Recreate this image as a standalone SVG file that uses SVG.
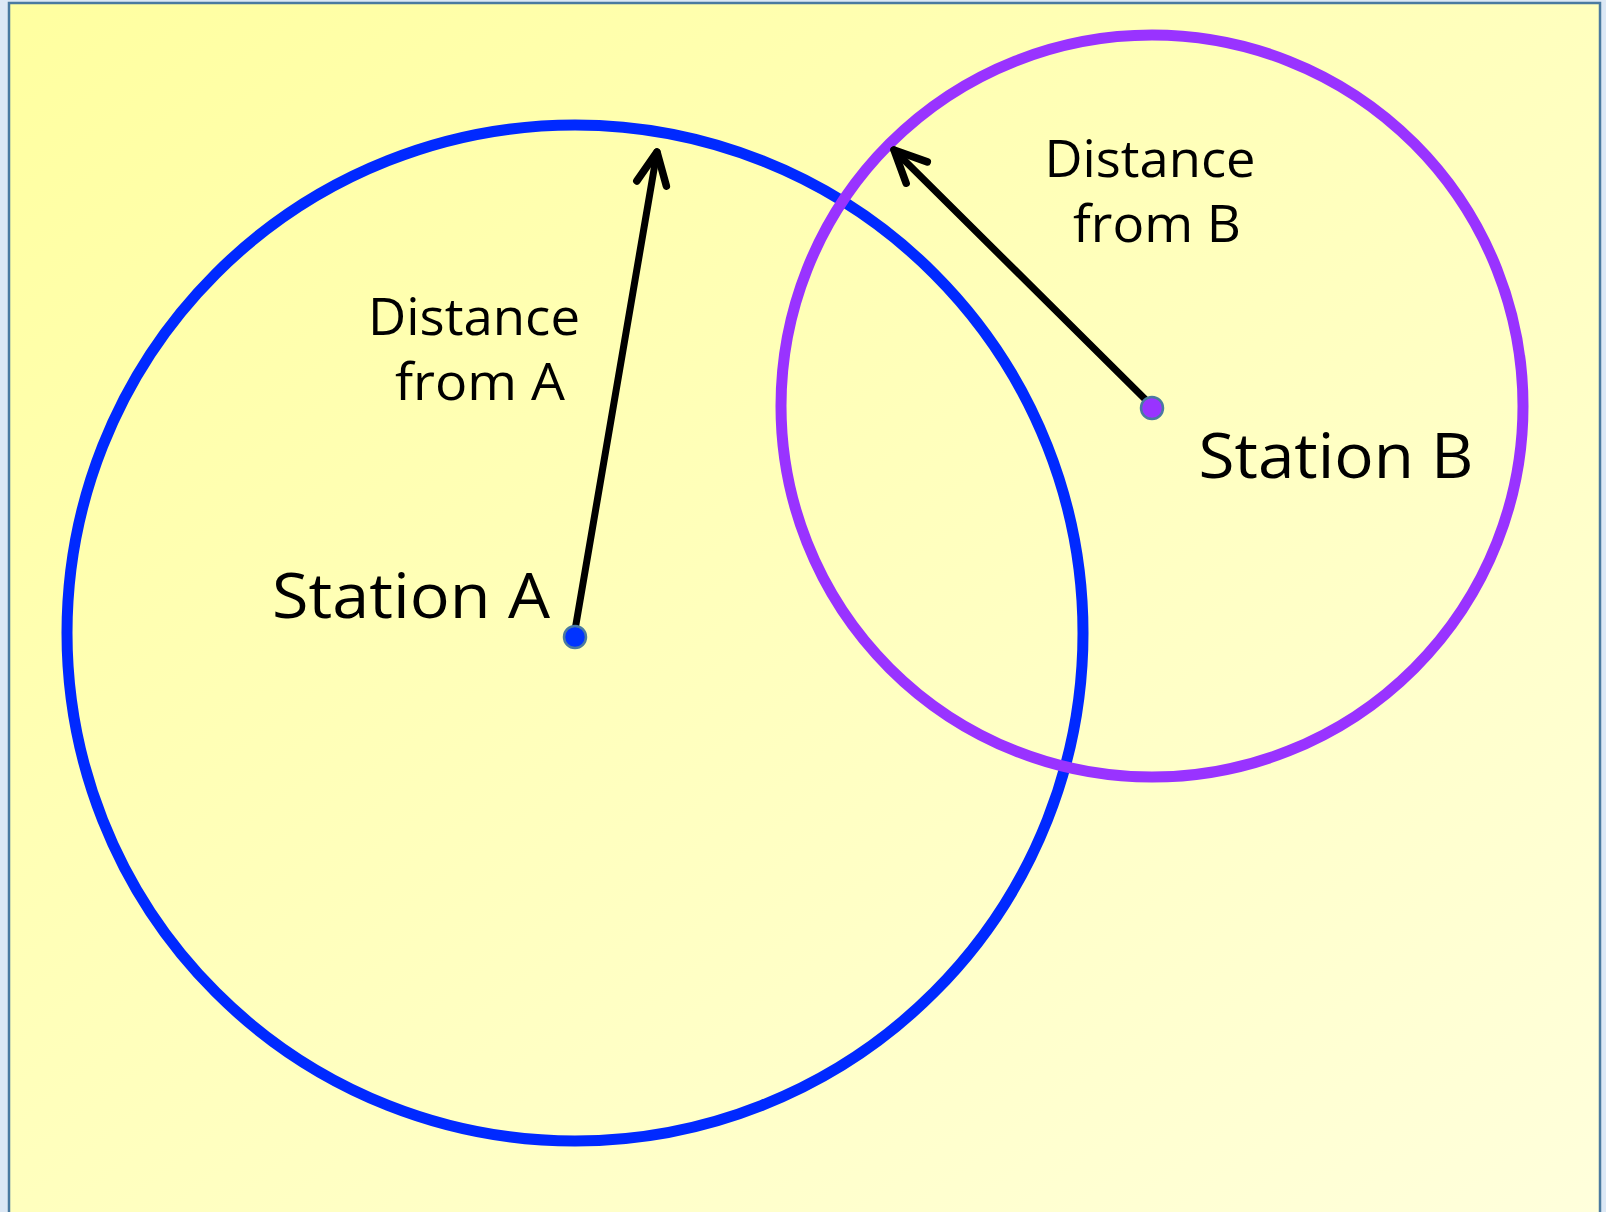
<svg xmlns="http://www.w3.org/2000/svg" width="1606" height="1212" viewBox="0 0 1606 1212">
  <defs>
    <linearGradient id="bg" x1="0" y1="0" x2="1" y2="1">
      <stop offset="0" stop-color="#ffffa0"/>
      <stop offset="1" stop-color="#ffffdc"/>
    </linearGradient>
    <marker id="chev" markerUnits="userSpaceOnUse" markerWidth="60" markerHeight="60" viewBox="-40 -30 50 60" refX="0" refY="0" orient="auto">
      <path d="M -32 -15 L 0 0 L -32 15" fill="none" stroke="#000" stroke-width="7.5" stroke-linecap="round" stroke-linejoin="round"/>
    </marker>
    <style>
      .lbl { font-family: "Comic Sans MS", "Open Sans", sans-serif; fill: #000; text-anchor: middle; }
      .conn { fill: none; stroke: #000; stroke-width: 7; stroke-linecap: round; marker-end: url(#chev); }
      .dot { stroke: #4a7aa0; stroke-width: 2.5; }
      .ring { fill: none; stroke-width: 11; }
    </style>
  </defs>
  <rect x="0" y="0" width="1606" height="1212" fill="#dce8f5"/>
  <rect x="9" y="3" width="1591" height="1215" fill="url(#bg)" stroke="#4a7aa0" stroke-width="2.5"/>

  <g id="circleA">
    <circle class="ring" cx="575" cy="633" r="508" stroke="#0029ff"/>
  </g>
  <g id="circleB">
    <circle class="ring" cx="1152" cy="406" r="371" stroke="#9933ff"/>
  </g>

  <g id="connectors">
    <line class="conn" x1="575" y1="630" x2="657" y2="152"/>
    <line class="conn" x1="1150" y1="404" x2="894" y2="150"/>
  </g>

  <g id="stationA">
    <circle class="dot" cx="575" cy="637" r="11" fill="#0033ff"/>
    <text class="lbl" x="411" y="618" font-size="62" textLength="278" lengthAdjust="spacingAndGlyphs">Station A</text>
  </g>
  <g id="stationB">
    <circle class="dot" cx="1152" cy="408" r="11" fill="#9933ff"/>
    <text class="lbl" x="1336" y="478" font-size="62" textLength="275" lengthAdjust="spacingAndGlyphs">Station B</text>
  </g>
  <g id="labelA">
    <text class="lbl" x="474" y="335" font-size="52" textLength="212" lengthAdjust="spacingAndGlyphs">Distance</text>
    <text class="lbl" x="480" y="400" font-size="52" textLength="170" lengthAdjust="spacingAndGlyphs">from A</text>
  </g>
  <g id="labelB">
    <text class="lbl" x="1150" y="177" font-size="52" textLength="211" lengthAdjust="spacingAndGlyphs">Distance</text>
    <text class="lbl" x="1157" y="242" font-size="52" textLength="168" lengthAdjust="spacingAndGlyphs">from B</text>
  </g>
</svg>
